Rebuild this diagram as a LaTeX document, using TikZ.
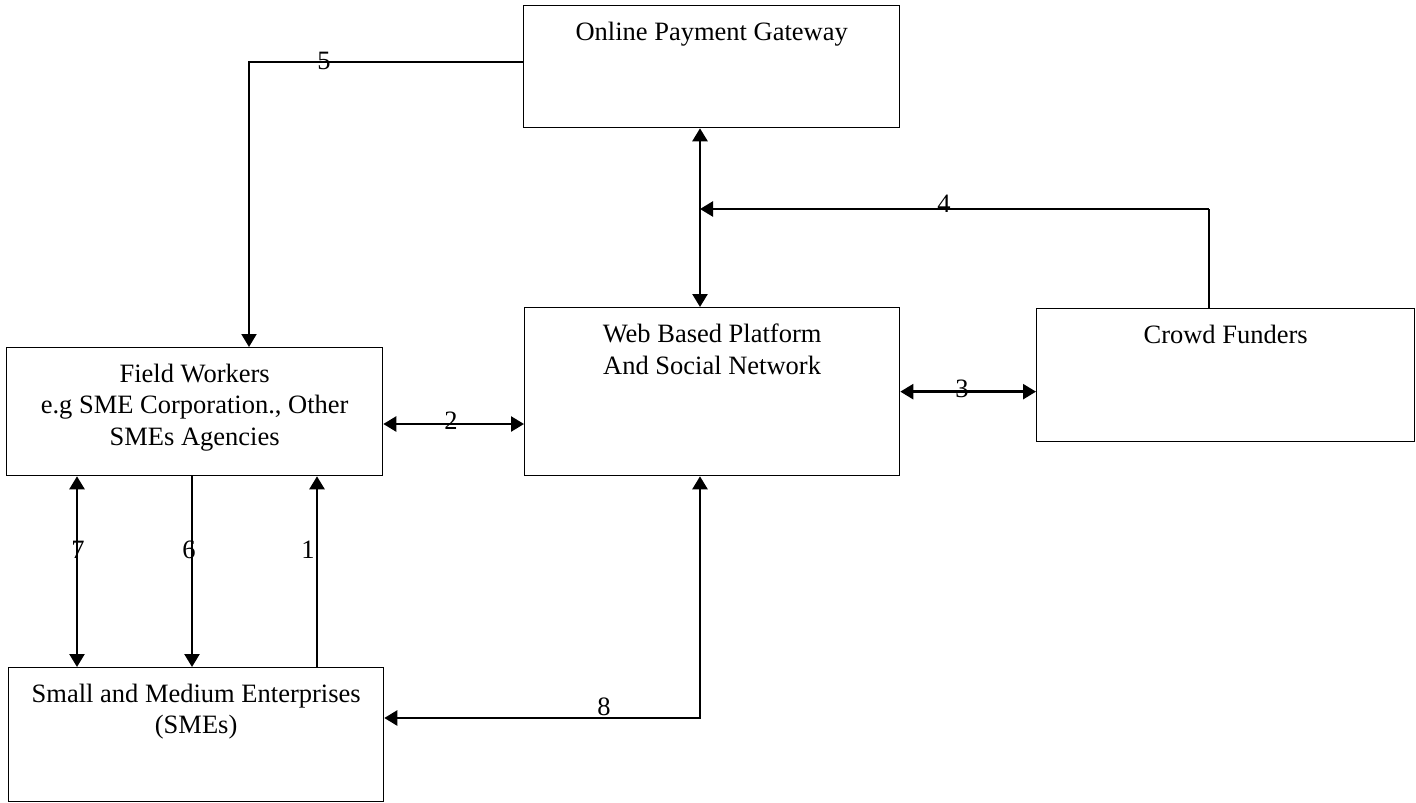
\documentclass[tikz,border=0pt]{standalone}
\usepackage{fontspec}
\setmainfont{Liberation Serif}
\usepackage{tikz}
\usetikzlibrary{arrows.meta,calc}

\tikzset{
  box/.style={draw,line width=1.3pt,inner sep=0pt,anchor=north west},
  boxtext/.style={anchor=north,align=center,inner sep=0pt,yshift=-16.5pt},
  link/.style={line width=2.5pt},
  num/.style={inner sep=0pt}
}

\begin{document}
\begin{tikzpicture}[x=1pt,y=-1pt,>={Triangle[length=13pt,width=15pt]},
  every node/.style={font=\fontsize{26.5}{31.7}\selectfont}]
  \useasboundingbox (0,0) rectangle (1416,803);

  \node[box,minimum width=376pt,minimum height=122pt] (opg) at (523,5)
    [label={[boxtext]north:Online Payment Gateway}] {};
  \node[box,minimum width=375pt,minimum height=168pt] (web) at (524,307)
    [label={[boxtext]north:Web Based Platform\\And Social Network}] {};
  \node[box,minimum width=378pt,minimum height=133pt] (cf) at (1036,308)
    [label={[boxtext]north:Crowd Funders}] {};
  \node[box,minimum width=376pt,minimum height=128pt] (fw) at (6,347)
    [label={[boxtext]north:Field Workers\\e.g SME Corporation., Other\\SMEs Agencies}] {};
  \node[box,minimum width=375pt,minimum height=134pt] (sme) at (8,667)
    [label={[boxtext]north:Small and Medium Enterprises\\(SMEs)}] {};

  \coordinate (c5) at (249,62);
  \coordinate (j4) at (700,209);
  \coordinate (c4) at (1209,209);
  \coordinate (y2) at (0,424);
  \coordinate (y8) at (0,718);

  % links
  \draw[->,line width=2pt] (opg.west |- c5) -- (c5) -- (c5 |- fw.north);
  \draw[link,<->] (opg.south -| j4) -- (web.north -| j4);
  \draw[line width=1.3pt] (cf.north -| c4) -- (c4);
  \draw[link,->] (c4) -- (j4);
  \draw[link,<->] (web.east) -- (cf.west |- web.east);
  \draw[link,<->] (fw.east |- y2) -- (web.west |- y2);
  \draw[link,<->] (fw.south -| 77,0) -- (sme.north -| 77,0);
  \draw[link,->] (fw.south -| 192,0) -- (sme.north -| 192,0);
  \draw[link,->] (sme.north -| 317,0) -- (fw.south -| 317,0);
  \draw[link,<->] (web.south -| j4) |- (sme.east |- y8);

  \node[num] (n5) at (324,61) {5};
  \node[num] (n4) at (944,204) {4};
  \node[num] (n3) at (962,389) {3};
  \node[num] (n2) at (451,421) {2};
  \node[num] (n7) at (78,550) {7};
  \node[num] (n6) at (189,550) {6};
  \node[num] (n1) at (308,550) {1};
  \node[num] (n8) at (604,707) {8};
\end{tikzpicture}
\end{document}
